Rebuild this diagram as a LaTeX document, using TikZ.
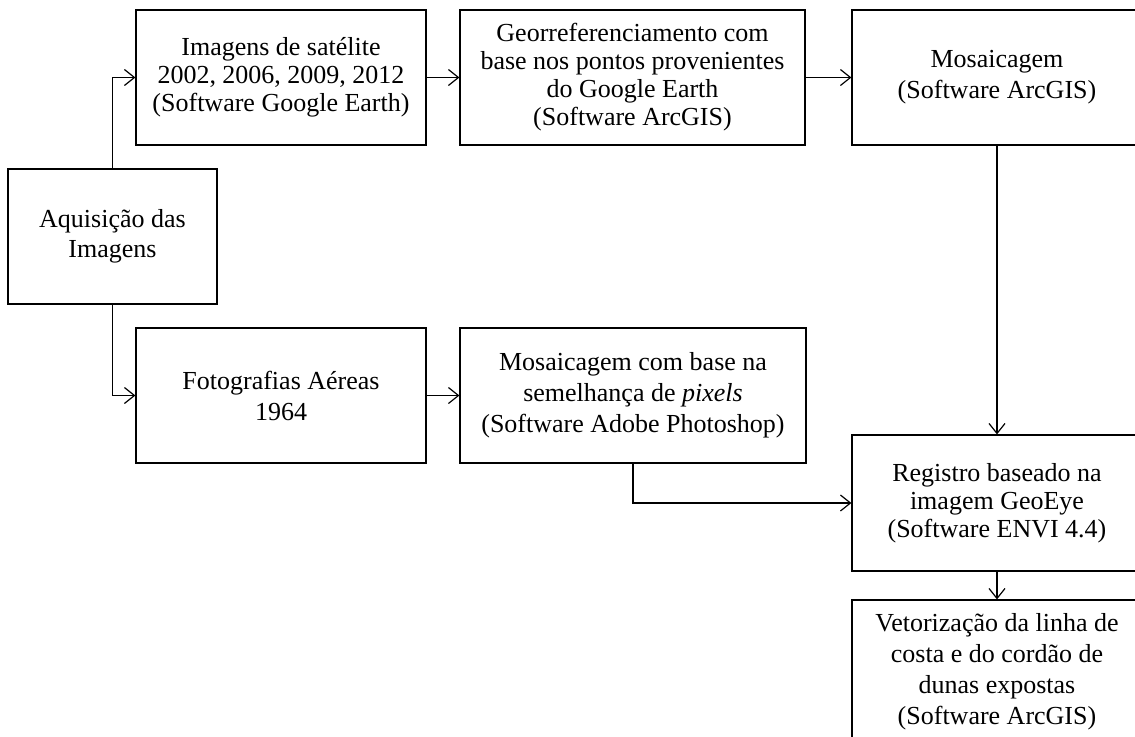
\documentclass[tikz,border=0pt]{standalone}
\usepackage{fontspec}
\setmainfont{Liberation Serif}
\usetikzlibrary{arrows.meta}

\begin{document}
\begin{tikzpicture}[x=0.5pt,y=-0.5pt,
  caixa/.style={draw, line width=0.6pt, align=center, inner sep=2pt,
    font=\fontsize{13pt}{14pt}\selectfont},
  largo/.style={font=\fontsize{13pt}{15.5pt}\selectfont},
  seta/.style={line width=0.6pt, -{Straight Barb[length=5pt,width=8pt]}}]
\useasboundingbox (0,0) rectangle (1135,736);
\node [caixa, largo, minimum width=104.5pt, minimum height=67.5pt,
  font=\fontsize{13pt}{15pt}\selectfont] (aquis) at (112.5,236.5) {Aquisição das\\Imagens};
\node [caixa, minimum width=145pt, minimum height=67.5pt] (sat) at (281,77.5)
  {Imagens de satélite\\2002, 2006, 2009, 2012\\(Software Google Earth)};
\node [caixa, minimum width=172.5pt, minimum height=67.5pt] (geo) at (632.5,77.5)
  {Georreferenciamento com\\base nos pontos provenientes\\do Google Earth\\(Software ArcGIS)};
\node [caixa, largo, minimum width=145pt, minimum height=67.5pt] (mos) at (997,77.5)
  {Mosaicagem\\(Software ArcGIS)};
\node [caixa, largo, minimum width=145pt, minimum height=67.5pt] (foto) at (281,395.5)
  {Fotografias Aéreas\\1964};
\node [caixa, largo, minimum width=173pt, minimum height=67.5pt] (mosb) at (633,395.5)
  {Mosaicagem com base na\\semelhança de \textit{pixels}\\(Software Adobe Photoshop)};
\node [caixa, minimum width=145pt, minimum height=68pt] (reg) at (997,503)
  {Registro baseado na\\imagem GeoEye\\(Software ENVI 4.4)};
\node [caixa, largo, minimum width=145pt, minimum height=72pt] (vet) at (997,672)
  {Vetorização da linha de\\costa e do cordão de\\dunas expostas\\(Software ArcGIS)};
\draw [seta] (aquis.north) |- (sat.west);
\draw [seta] (aquis.south) |- (foto.west);
\draw [seta] (sat) -- (geo);
\draw [seta] (geo) -- (mos);
\draw [seta] (foto) -- (mosb);
\draw [seta] (mos) -- (reg);
\draw [seta] (mosb.south) |- (reg.west);
\draw [seta] (reg) -- (vet);
\end{tikzpicture}
\end{document}
